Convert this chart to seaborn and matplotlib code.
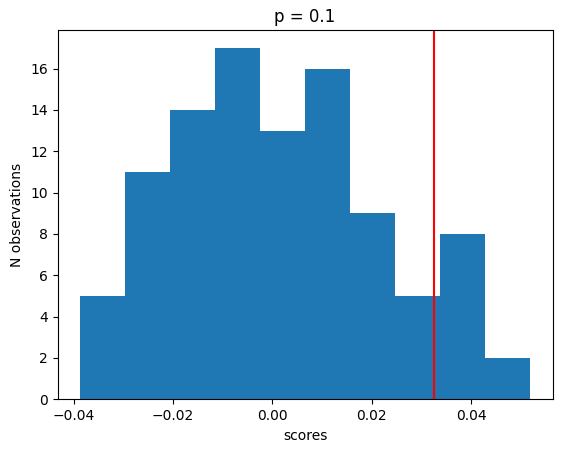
import numpy as np
import matplotlib
matplotlib.use('Agg')
import matplotlib.pyplot as plt
import seaborn as sns

# histogram bin edges and counts
bin_edges = [-0.0387, -0.0296, -0.0206, -0.0115, -0.0025, 0.0066,
             0.0157, 0.0247, 0.0338, 0.0428, 0.0519]
counts = [5, 11, 14, 17, 13, 16, 9, 5, 8, 2]
observed_score = 0.0326
title = 'p = 0.1'

centers = [(a + b) / 2 for a, b in zip(bin_edges[:-1], bin_edges[1:])]

fig = plt.figure(figsize=(5.63, 4.53), dpi=100)
ax = fig.add_axes([57.5 / 563, (453 - 399.3) / 453, (552.7 - 57.5) / 563, (399.3 - 30.3) / 453])

sns.histplot(x=centers, weights=counts, bins=bin_edges, ax=ax,
             color='#1f77b4', alpha=1, linewidth=0, element='bars')
ax.axvline(observed_score, color='red')

ax.set_title(title)
ax.set_xlabel('scores')
ax.set_ylabel('N observations')

fig.savefig('out.png', dpi=100)
